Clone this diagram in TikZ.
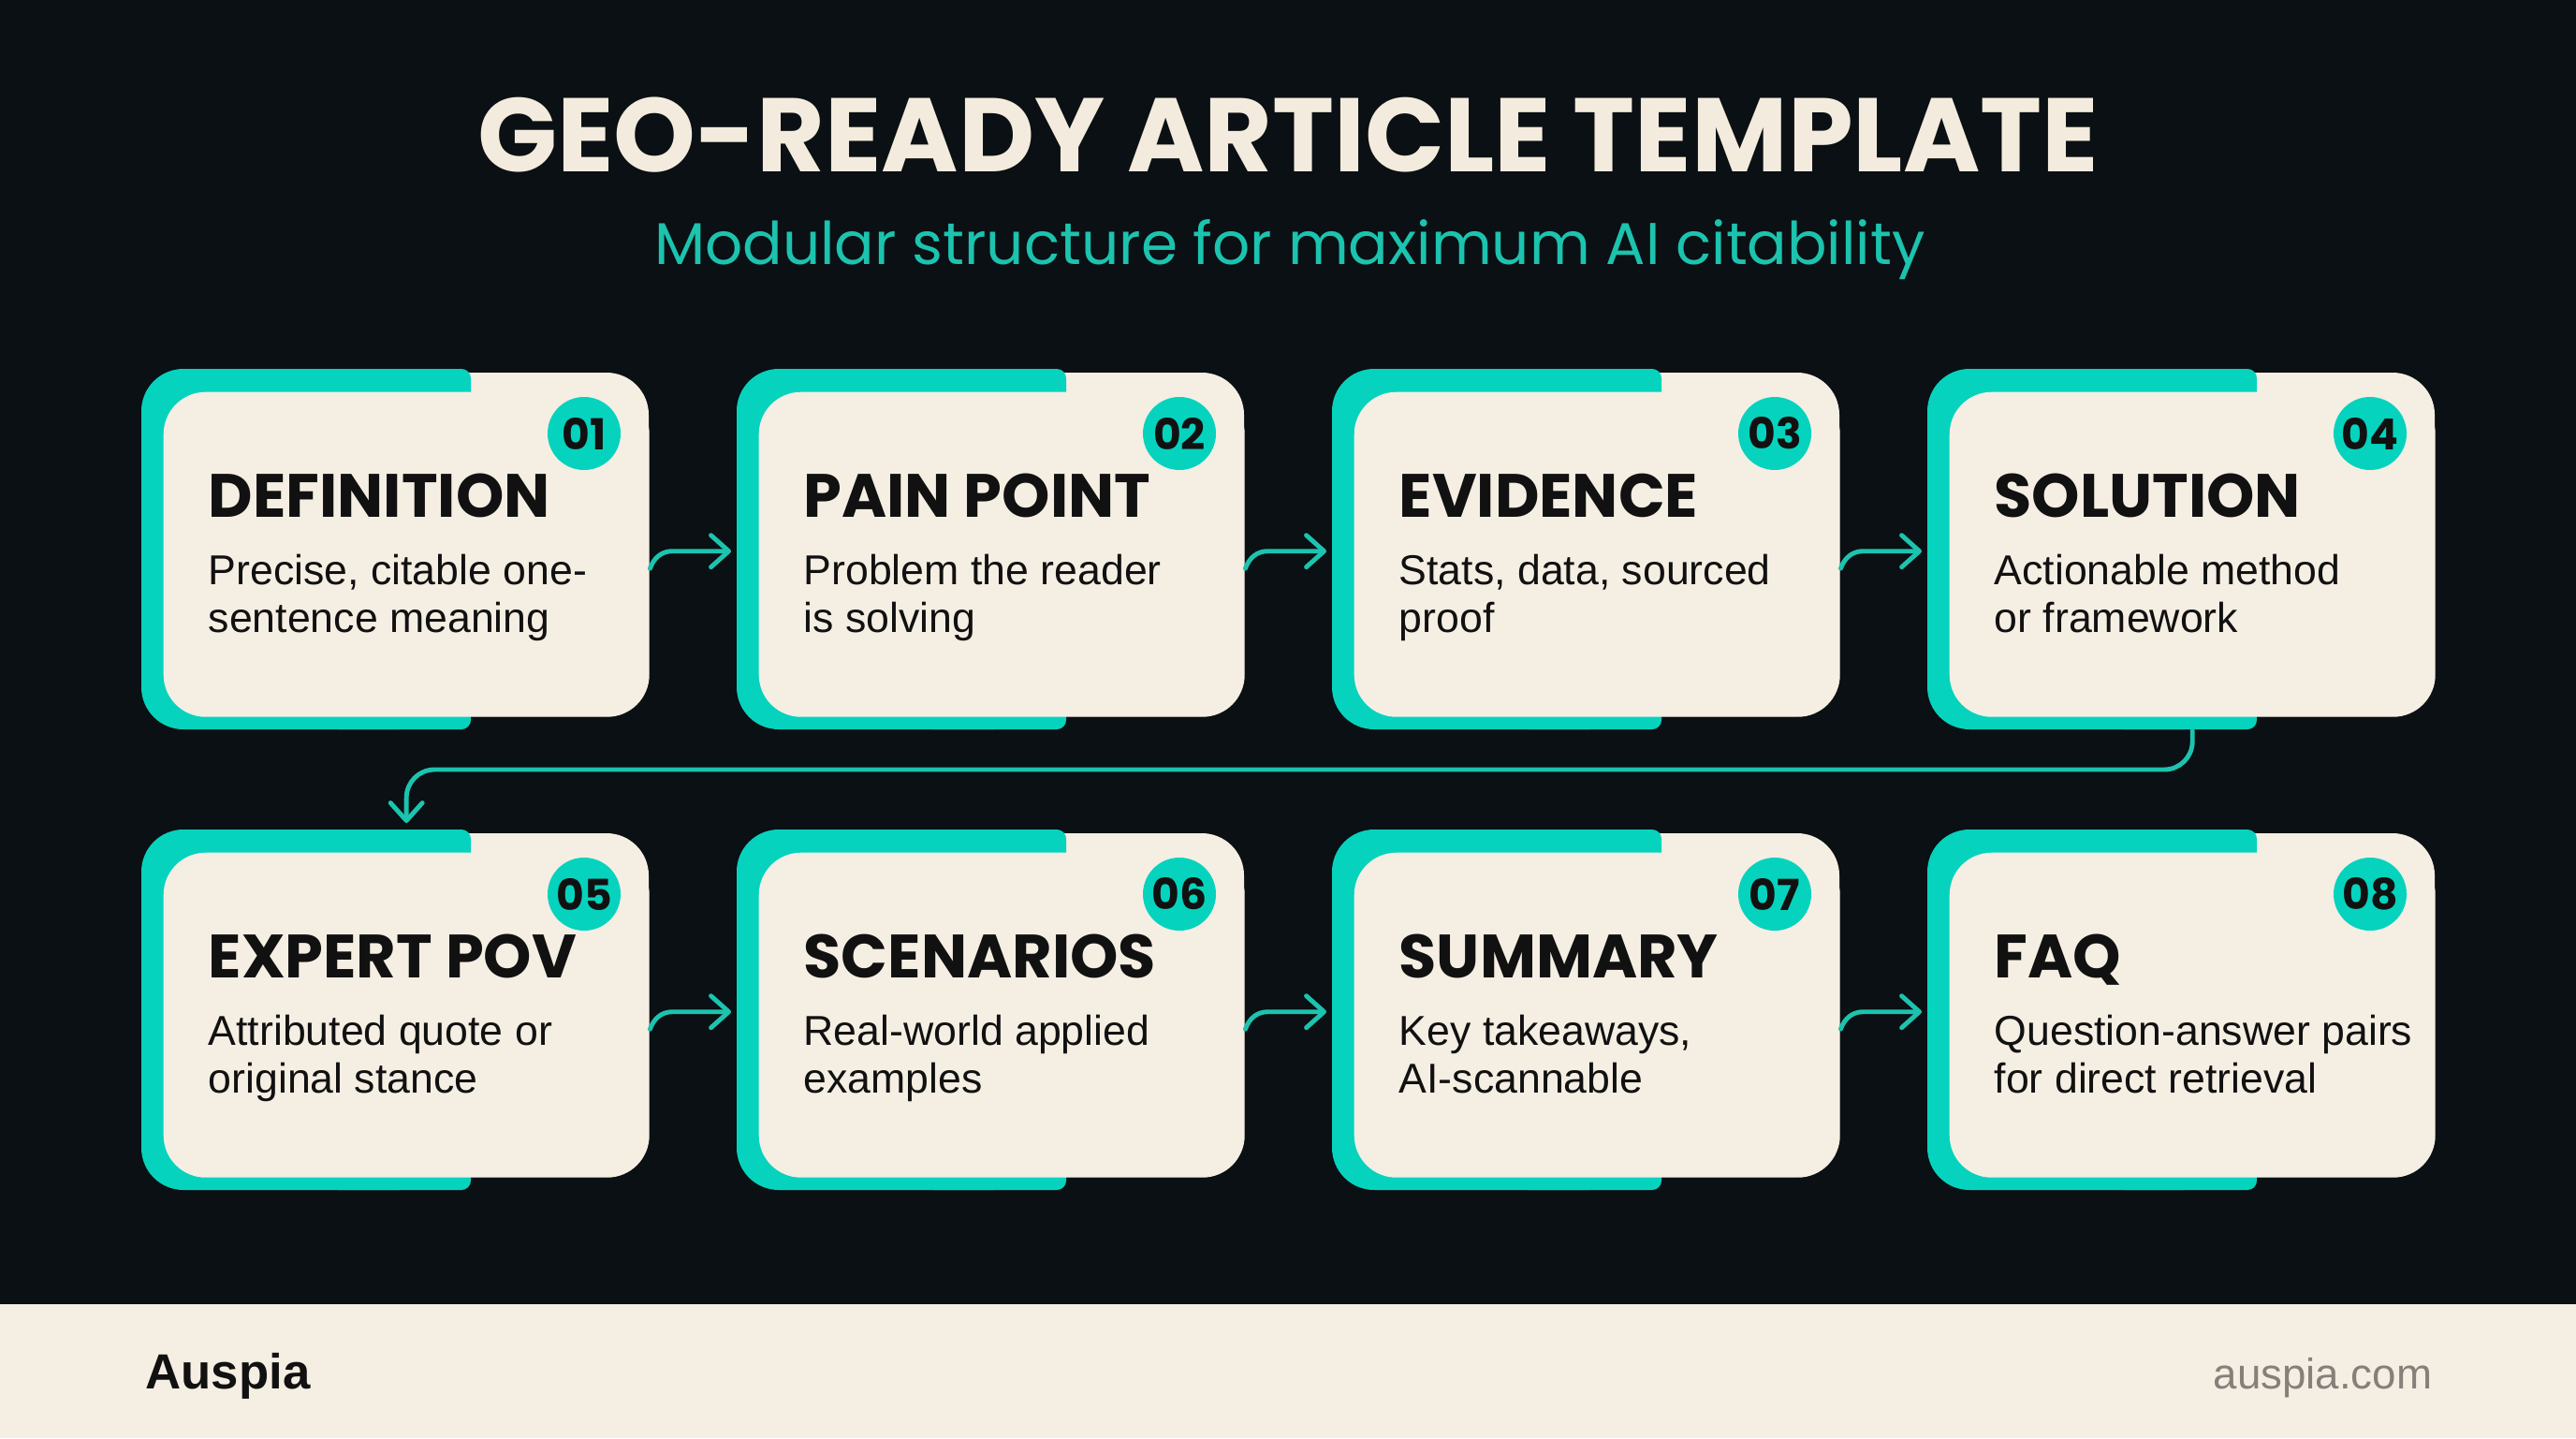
\documentclass[tikz,border=0pt]{standalone}
\usepackage{fontspec}
\setmainfont{Liberation Sans}
\newfontfamily\popfont{Poppins}
\usetikzlibrary{arrows.meta,calc,positioning}
\definecolor{pagebg}{HTML}{0A1013}
\definecolor{cardteal}{HTML}{05D3BE}
\definecolor{lineteal}{HTML}{1CC3AF}
\definecolor{cardcream}{HTML}{F5EEE3}
\definecolor{titlecream}{HTML}{F3EBDD}
\definecolor{inkblack}{HTML}{111111}
\definecolor{footgray}{HTML}{85807A}

\begin{document}
\begin{tikzpicture}[
  cardbox/.style={rounded corners=4.5mm, fill=cardcream, minimum width=5.19cm,
                  minimum height=3.47cm, inner sep=0, anchor=north west},
  badge/.style={circle, fill=cardteal, minimum size=0.78cm, inner sep=0, text=inkblack,
                font=\popfont\bfseries\fontsize{13}{13}\selectfont},
  ctitle/.style={anchor=base west, inner sep=0, text=inkblack,
                 font=\popfont\bfseries\fontsize{18.6}{21}\selectfont},
  cdesc/.style={anchor=base west, inner sep=0, align=left, text=inkblack,
                font=\fontsize{12.7}{14.4}\selectfont},
  flow/.style={-{Straight Barb[length=1.9mm, width=3.4mm, round]}, lineteal,
               line width=1.4pt, line cap=round},
]
\useasboundingbox (0,0) rectangle (27.52,-15.36);
\fill[pagebg] (0,0) rectangle (27.52,-15.36);

% =========================== header ===========================
\node[anchor=base, inner sep=0, text=titlecream, font=\popfont\bfseries\fontsize{31.8}{34}\selectfont]
  (title) at (13.76,-1.83) {GEO-READY ARTICLE TEMPLATE};
\node[anchor=base, inner sep=0, text=lineteal, font=\popfont\fontsize{17.9}{20}\selectfont]
  (sub) at (13.78,-2.82) {Modular structure for maximum AI citability};

% =========================== cards ===========================
% (multi-line text: base anchor sits on the last line)
\foreach \n/\c/\r/\ttl/\dsc in {
    1/0/0/DEFINITION/{Precise, citable one-\\sentence meaning},
    2/1/0/PAIN POINT/{Problem the reader\\is solving},
    3/2/0/EVIDENCE/{Stats, data, sourced\\proof},
    4/3/0/SOLUTION/{Actionable method\\or framework},
    5/0/1/EXPERT POV/{Attributed quote or\\original stance},
    6/1/1/SCENARIOS/{Real-world applied\\examples},
    7/2/1/SUMMARY/{Key takeaways,\\AI-scannable},
    8/3/1/FAQ/{Question-answer pairs\\for direct retrieval}}{
  \pgfmathsetmacro{\tx}{1.51+6.36*\c}
  \pgfmathsetmacro{\ty}{-3.94-4.92*\r}
  % back sheet, teal tab, front sheet
  \fill[cardcream, rounded corners=4.5mm] (\tx+0.23,\ty-0.04) rectangle ++(5.19,-3.67);
  \fill[cardteal, rounded corners=4.5mm] (\tx,\ty) rectangle ++(3.2,-3.85);
  \fill[cardteal, rounded corners=1mm] (\tx+2,\ty) rectangle ++(1.52,-3.85);
  \node[cardbox] (c\n) at (\tx+0.23,\ty-0.24) {};
  \node[badge] (b\n) at (\tx+4.73,\ty-0.69) {0\n};
  \node[ctitle] (t\n) at (\tx+0.71,\ty-1.58) {\ttl};
  \node[cdesc] (d\n) at (\tx+0.71,\ty-2.81) {\dsc};
}

% =========================== connectors ===========================
\foreach \a/\b in {1/2,2/3,3/4,5/6,6/7,7/8}{
  \draw[flow] ([yshift=-1.5mm]c\a.east) to[out=70,in=180] ([xshift=2.4mm,yshift=0.35mm]c\a.east)
    -- ([xshift=-2.9mm,yshift=0.35mm]c\b.west);
}
\draw[flow, rounded corners=3mm] ([yshift=-1.4mm]c4.south) |- ([yshift=8.8mm]c5.north)
  -- ([yshift=3.1mm]c5.north);

% =========================== footer ===========================
\fill[cardcream] (0,-13.93) rectangle (27.52,-15.36);
\node[anchor=base west, inner sep=0, text=inkblack, font=\bfseries\fontsize{15}{18}\selectfont]
  (brand) at (1.55,-14.83) {Auspia};
\node[anchor=base east, inner sep=0, text=footgray, font=\fontsize{13}{16}\selectfont]
  (site) at (25.99,-14.83) {auspia.com};

\end{tikzpicture}
\end{document}
